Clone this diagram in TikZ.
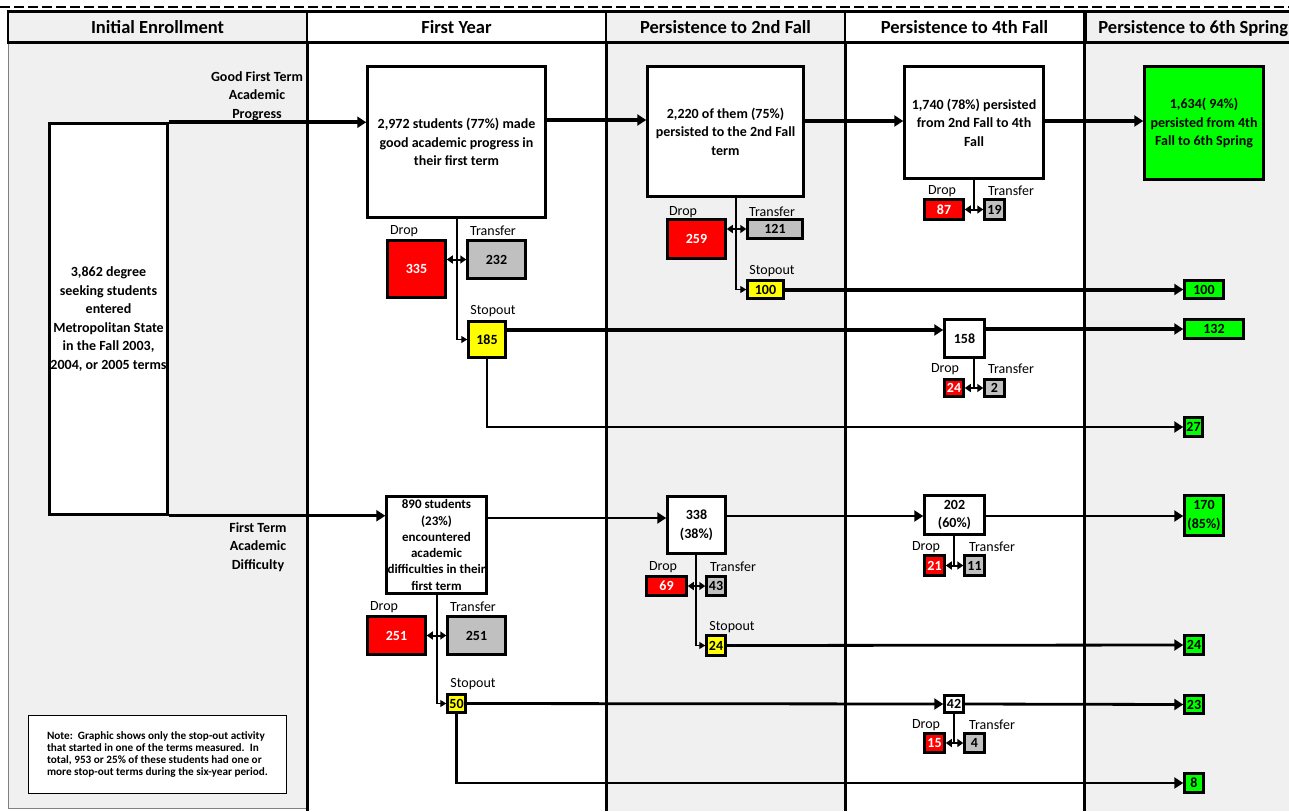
\documentclass[tikz,border=0pt]{standalone}
\usepackage{fontspec}
\setmainfont{Carlito}
\usetikzlibrary{arrows.meta,positioning}
\definecolor{colgray}{RGB}{240,240,240}
\definecolor{xfergray}{RGB}{192,192,192}
\definecolor{dropred}{RGB}{255,0,0}
\definecolor{stopyellow}{RGB}{255,255,0}
\definecolor{donegreen}{RGB}{0,255,0}
\newcommand\cellfont{\bfseries\fontsize{14}{18.5}\selectfont}
\newcommand\tagfont{\fontsize{14}{15}\selectfont}
\newcommand\headfont{\bfseries\fontsize{18.5}{20}\selectfont}
\newcommand\notefont{\bfseries\fontsize{11.2}{12.3}\selectfont}
\begin{document}
\begin{tikzpicture}[x=1pt, y=-1pt,
    cell/.style={draw, line width=2.5pt, inner sep=1pt, align=center, font=\cellfont},
    stage/.style={cell, fill=white},
    dropbox/.style={cell, fill=dropred, text=white},
    xferbox/.style={cell, fill=xfergray},
    stopbox/.style={cell, fill=stopyellow},
    donebox/.style={cell, fill=donegreen},
    tag/.style={font=\tagfont, inner sep=0pt, align=center},
    head/.style={draw, line width=2.5pt, font=\headfont, minimum height=31, text height=14, text depth=2},
    flow/.style={line width=4pt, -{Triangle[length=9pt,width=11pt]}},
    link/.style={line width=2.8pt, -{Triangle[length=9pt,width=11pt]}},
    stem/.style={line width=1.3pt},
    stemto/.style={stem, -{Triangle[length=6pt,width=7pt]}},
    pair/.style={line width=2pt, {Triangle[length=6pt,width=8pt]}-{Triangle[length=6pt,width=8pt]}}]
    \useasboundingbox (0,0) rectangle (1289,811);
    % columns
    \fill[colgray] (8,44) rectangle (307,808);
    \fill[colgray] (606,44) rectangle (845,811);
    \fill[colgray] (1084,44) rectangle (1289,811);
    \draw[gray, line width=1pt] (8,44) -- (8,808) -- (307,808);
    \draw[line width=1.5pt, dash pattern=on 10pt off 4pt] (0,7) -- (1289,7);
    \foreach \x in {307,606,845,1084}
        \draw[line width=3pt] (\x,44) -- (\x,811);
    \node[head, fill=colgray, minimum width=299] (hInit) at (157.5,27) {Initial Enrollment};
    \node[head, fill=white, minimum width=299] (hYear) at (456.5,27) {First Year};
    \node[head, fill=colgray, minimum width=239] (hFall2) at (725.5,27) {Persistence to 2nd Fall};
    \node[head, fill=white, minimum width=239] (hFall4) at (964.5,27) {Persistence to 4th Fall};
    \node[head, fill=colgray, minimum width=216, anchor=west] (hSpring6) at (1084,27) {Persistence to 6th Spring};

    % initial enrollment
    \node[stage, minimum width=116, minimum height=391] (enroll) at (108.5,319) {3,862 degree\\seeking students\\entered\\Metropolitan State\\in the Fall 2003,\\2004, or 2005 terms};
    \node[tag, font=\cellfont] (progress) at (257,96) {Good First Term\\Academic\\Progress};
    \node[tag, font=\cellfont] (difficulty) at (258,547) {First Term\\Academic\\Difficulty};
    \node[draw, line width=1.2pt, fill=white, align=left, font=\notefont, minimum width=258, minimum height=78, inner sep=3pt] (note) at (157.5,754.5) {Note:\ \ Graphic shows only the stop-out activity\\that started in one of the terms measured.\ \ In\\total, 953 or 25\% of these students had one or\\more stop-out terms during the six-year period.};

    % good progress row
    \node[stage, minimum width=178, minimum height=151] (good) at (456.5,142) {2,972 students (77\%) made\\good academic progress in\\their first term};
    \node[dropbox, minimum width=58, minimum height=57] (goodDrop) at (416.5,269) {335};
    \node[xferbox, minimum width=58, minimum height=38] (goodXfer) at (496.5,259.5) {232};
    \node[stopbox, minimum width=37, minimum height=36] (goodStop) at (487,339.5) {185};
    \node[tag] (goodDropTag) at (404,231) {Drop};
    \node[tag] (goodXferTag) at (493,231) {Transfer};
    \node[tag] (goodStopTag) at (493,311) {Stopout};
    \coordinate (goodJ) at (457,259.5);

    \node[stage, minimum width=156, minimum height=130] (fall2) at (725.5,131.5) {2,220 of them (75\%)\\persisted to the 2nd Fall\\term};
    \node[dropbox, minimum width=58, minimum height=39] (fall2Drop) at (696.5,239) {259};
    \node[xferbox, minimum width=55, minimum height=19] (fall2Xfer) at (775,229) {121};
    \node[stopbox, minimum width=36, minimum height=18] (fall2Stop) at (765.5,289.5) {100};
    \node[tag] (fall2DropTag) at (683,212) {Drop};
    \node[tag] (fall2XferTag) at (772,212) {Transfer};
    \node[tag] (fall2StopTag) at (772,271) {Stopout};
    \coordinate (fall2J) at (736,229);

    \node[stage, minimum width=139, minimum height=112] (fall4) at (974,122.5) {1,740 (78\%) persisted\\from 2nd Fall to 4th\\Fall};
    \node[dropbox, minimum width=39, minimum height=20] (fall4Drop) at (944,209.5) {87};
    \node[xferbox, minimum width=20, minimum height=20] (fall4Xfer) at (994.5,209.5) {19};
    \node[tag] (fall4DropTag) at (942,191) {Drop};
    \node[tag] (fall4XferTag) at (1011,191) {Transfer};
    \coordinate (fall4J) at (974,209.5);

    \node[donebox, minimum width=119, minimum height=113] (spring6) at (1204,123) {1,634( 94\%)\\persisted from 4th\\Fall to 6th Spring};

    % stop-outs after good progress
    \node[donebox, minimum width=39, minimum height=18] (back100) at (1204,289.5) {100};
    \node[stage, minimum width=40, minimum height=38] (back158) at (964.5,338.5) {158};
    \node[donebox, minimum width=59, minimum height=19] (back132) at (1214,329) {132};
    \node[dropbox, minimum width=19, minimum height=17] (back158Drop) at (954,388) {24};
    \node[xferbox, minimum width=20, minimum height=17] (back158Xfer) at (994.5,388) {2};
    \node[tag] (back158DropTag) at (945,369) {Drop};
    \node[tag] (back158XferTag) at (1011,369) {Transfer};
    \coordinate (back158J) at (974,388);
    \node[donebox, minimum width=18, minimum height=19] (back27) at (1193.5,427) {27};

    % academic difficulty row
    \node[stage, minimum width=98, minimum height=97, font=\bfseries\fontsize{13}{16.3}\selectfont] (weak) at (436.5,545) {890 students\\(23\%)\\encountered\\academic\\difficulties in their\\first term};
    \node[dropbox, minimum width=58, minimum height=38] (weakDrop) at (396.5,635.5) {251};
    \node[xferbox, minimum width=58, minimum height=38] (weakXfer) at (476.5,635.5) {251};
    \node[stopbox, minimum width=18, minimum height=18] (weakStop) at (456.5,703.5) {50};
    \node[tag] (weakDropTag) at (384,607) {Drop};
    \node[tag] (weakXferTag) at (473,607) {Transfer};
    \node[tag] (weakStopTag) at (473,684) {Stopout};
    \coordinate (weakJ) at (437,635.5);

    \node[stage, minimum width=58, minimum height=57] (weak2) at (696.5,525) {338\\(38\%)};
    \node[dropbox, minimum width=40, minimum height=19] (weak2Drop) at (666.5,586) {69};
    \node[xferbox, minimum width=19, minimum height=19] (weak2Xfer) at (716,586) {43};
    \node[stopbox, minimum width=19, minimum height=20] (weak2Stop) at (716,645.5) {24};
    \node[tag] (weak2DropTag) at (663,567) {Drop};
    \node[tag] (weak2XferTag) at (733,567) {Transfer};
    \node[tag] (weak2StopTag) at (732,627) {Stopout};
    \coordinate (weak2J) at (696,586);

    \node[stage, minimum width=60, minimum height=39] (weak4) at (954.5,515) {202\\(60\%)};
    \node[dropbox, minimum width=20, minimum height=20] (weak4Drop) at (934.5,565.5) {21};
    \node[xferbox, minimum width=20, minimum height=20] (weak4Xfer) at (974.5,565.5) {11};
    \node[tag] (weak4DropTag) at (926,547) {Drop};
    \node[tag] (weak4XferTag) at (992,547) {Transfer};
    \coordinate (weak4J) at (954,565.5);
    \node[donebox, minimum width=39, minimum height=40] (weak6) at (1204,515.5) {170\\(85\%)};

    % stop-outs after difficulty
    \node[donebox, minimum width=19, minimum height=19] (back24) at (1194,645) {24};
    \node[stage, minimum width=19, minimum height=17] (back42) at (954,704) {42};
    \node[donebox, minimum width=19, minimum height=18] (back23) at (1194,704.5) {23};
    \node[dropbox, minimum width=20, minimum height=19] (back42Drop) at (934.5,743) {15};
    \node[xferbox, minimum width=20, minimum height=19] (back42Xfer) at (974.5,743) {4};
    \node[tag] (back42DropTag) at (926,725) {Drop};
    \node[tag] (back42XferTag) at (992,725) {Transfer};
    \coordinate (back42J) at (954,743);
    \node[donebox, minimum width=19, minimum height=19] (back8) at (1194,783) {8};

    % connectors
    \draw[flow] (enroll.north east) -- (enroll.north east -| good.west);
    \draw[link] (enroll.south east) -- (enroll.south east -| weak.west);
    \draw[flow] (good.east |- 0,120) -- (fall2.west |- 0,120);
    \draw[flow] (fall2.east |- 0,121) -- (fall4.west |- 0,121);
    \draw[flow] (fall4.east |- 0,121) -- (spring6.west |- 0,121);
    \draw[stemto] (good.south -| goodJ) |- (goodStop.west);
    \draw[pair] (goodDrop.east |- goodJ) -- (goodXfer.west |- goodJ);
    \draw[stemto] (fall2.south -| fall2J) |- (fall2Stop.west);
    \draw[pair] (fall2Drop.east |- fall2J) -- (fall2Xfer.west |- fall2J);
    \draw[stem] (fall4.south -| fall4J) -- (fall4J);
    \draw[pair] (fall4Drop.east |- fall4J) -- (fall4Xfer.west |- fall4J);
    \draw[flow] (fall2Stop.east) -- (back100.west);
    \draw[flow] (goodStop.east |- 0,330) -- (back158.west |- 0,330);
    \draw[flow] (back158.east |- back132.west) -- (back132.west);
    \draw[stem] (back158.south -| back158J) -- (back158J);
    \draw[pair] (back158Drop.east |- back158J) -- (back158Xfer.west |- back158J);
    \draw[link] (goodStop.south) |- (back27.west);

    \draw[link] (weak.east |- 0,518) -- (weak2.west |- 0,518);
    \draw[link] (weak2.east |- 0,516) -- (weak4.west |- 0,516);
    \draw[link] (weak4.east |- 0,516) -- (weak6.west |- 0,516);
    \draw[stemto] (weak.south -| weakJ) |- (weakStop.west);
    \draw[pair] (weakDrop.east |- weakJ) -- (weakXfer.west |- weakJ);
    \draw[stemto] (weak2.south -| weak2J) |- (weak2Stop.west);
    \draw[pair] (weak2Drop.east |- weak2J) -- (weak2Xfer.west |- weak2J);
    \draw[stem] (weak4.south -| weak4J) -- (weak4J);
    \draw[pair] (weak4Drop.east |- weak4J) -- (weak4Xfer.west |- weak4J);
    \draw[link] (weak2Stop.east) -- (back24.west);
    \draw[link] (weakStop.east) -- (back42.west);
    \draw[link] (back42.east) -- (back23.west);
    \draw[stem] (back42.south -| back42J) -- (back42J);
    \draw[pair] (back42Drop.east |- back42J) -- (back42Xfer.west |- back42J);
    \draw[link] (weakStop.south) |- (back8.west);
\end{tikzpicture}
\end{document}
